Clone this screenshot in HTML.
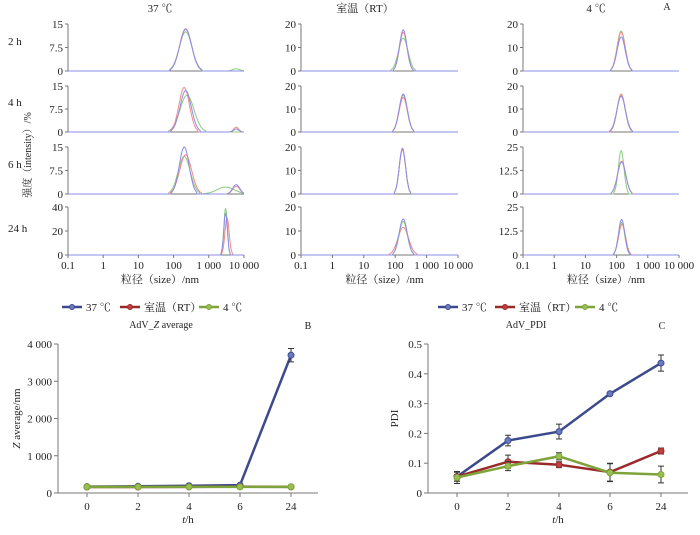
<!DOCTYPE html>
<html><head><meta charset="utf-8">
<style>
html,body{margin:0;padding:0;background:#fff;}
svg{display:block;font-family:"Liberation Serif","Noto Serif CJK SC",serif;}
</style></head>
<body>
<svg id="fig" width="700" height="535" viewBox="0 0 700 535"></svg>
<script>
// ---------- DLS distribution data (peak centre nm, height %, width in decades) ----------
const rowLabels = ["2 h","4 h","6 h","24 h"];
const colTitles = ["37 ℃","室温（RT）","4 ℃"];
const yMax37 = [15,15,15,40];
const yMaxRT = [20,20,20,20];
const yMax4 = [20,20,25,25];
const yTicks37 = [["0","7.5","15"],["0","7.5","15"],["0","7.5","15"],["0","20","40"]];
const yTicksRT = [["0","10","20"],["0","10","20"],["0","10","20"],["0","10","20"]];
const yTicks4 = [["0","10","20"],["0","10","20"],["0","12.5","25"],["0","12.5","25"]];
const xTickLabels = ["0.1","1","10","100","1 000","10 000"];
const peaks37 = [
 {red:[[220,13.5,.17]],blue:[[220,13.3,.17]],green:[[220,12.5,.18],[6000,0.7,.1]]},
 {red:[[200,14.5,.15],[6000,1.6,.07]],blue:[[220,13.5,.16],[6000,1,.07]],green:[[240,12,.2]]},
 {red:[[220,12.5,.17],[6000,2.5,.1]],blue:[[200,15,.14],[6000,3,.1]],green:[[200,12,.17],[3000,2.2,.25]]},
 {red:[[3300,31,.06]],blue:[[3000,35,.05]],green:[[3000,39,.05]]}];
const peaksRT = [
 {red:[[180,16.5,.12]],blue:[[180,17.5,.12]],green:[[180,14,.15]]},
 {red:[[180,15,.13]],blue:[[180,16.5,.13]],green:[[180,16,.13]]},
 {red:[[170,19,.1]],blue:[[170,19.5,.1]],green:[[170,19,.1]]},
 {red:[[180,11.5,.17]],blue:[[180,15,.13]],green:[[180,14,.13]]}];
const peaks4 = [
 {red:[[140,16.5,.13]],blue:[[140,14.5,.13]],green:[[140,17,.13]]},
 {red:[[140,16.5,.13]],blue:[[140,15.5,.14]],green:[[140,16,.13]]},
 {red:[[145,17.5,.13]],blue:[[145,17,.13]],green:[[140,23,.09]]},
 {red:[[150,16,.11]],blue:[[145,18.5,.1]],green:[[145,17,.1]]}];
// ---------- line charts ----------
const times = ["0","2","4","6","24"];
const seriesNames = ["37 ℃","室温（RT）","4 ℃"];
const zavg37 = [170,180,195,210,3700];
const zavgRT = [160,160,165,170,165];
const zavg4 = [165,165,165,165,165];
const zerr37 = [20,20,20,20,180];
const zerrRT = [10,10,10,10,10];
const zerr4 = [10,10,10,10,10];
const zTicks = [0,1000,2000,3000,4000];
const zTickLabels = ["0","1 000","2 000","3 000","4 000"];
const pdi37 = [0.055,0.176,0.206,0.333,0.436];
const pdiRT = [0.055,0.105,0.095,0.07,0.141];
const pdi4 = [0.052,0.09,0.123,0.068,0.062];
const perr37 = [0.015,0.018,0.025,0.005,0.027];
const perrRT = [0.015,0.022,0.01,0.03,0.01];
const perr4 = [0.02,0.015,0.012,0.03,0.028];
const pTicks = [0,0.1,0.2,0.3,0.4,0.5];
const pTickLabels = ["0","0.1","0.2","0.3","0.4","0.5"];

const NS="http://www.w3.org/2000/svg";
const svg=document.getElementById('fig');
function mk(tag,attrs,parent){const e=document.createElementNS(NS,tag);for(const k in attrs)e.setAttribute(k,attrs[k]);(parent||svg).appendChild(e);return e;}
function txt(x,y,s,size,anchor,parent,extra){const t=mk('text',Object.assign({x:x,y:y,'font-size':size,'text-anchor':anchor||'middle',fill:'#222'},extra||{}),parent);t.textContent=s;return t;}

const AX='#777';
const lineColors={red:'#f08a8a',green:'#8ccc7c',blue:'#8c8ce6'};
const cols=[
 {x0:68,x1:244,peaks:peaks37,ymax:yMax37,ticks:yTicks37,title:colTitles[0],tx:160},
 {x0:301,x1:458,peaks:peaksRT,ymax:yMaxRT,ticks:yTicksRT,title:colTitles[1],tx:365},
 {x0:523,x1:679,peaks:peaks4,ymax:yMax4,ticks:yTicks4,title:colTitles[2],tx:596}];
const rows=[{top:24,base:71},{top:86,base:132},{top:147,base:194},{top:207,base:255}];

let t=txt(0,0,'',12);
cols.forEach((c,ci)=>{
 t=txt(c.tx,12,c.title,11);
 
 
 const xs=v=>c.x0+(Math.log10(v)+1)/5*(c.x1-c.x0);
 rows.forEach((r,ri)=>{
  const g=mk('g',{});
  
  
  const ys=v=>r.base-v/c.ymax[ri]*(r.base-r.top);
  mk('line',{x1:c.x0,y1:r.top,x2:c.x0,y2:r.base,stroke:AX,'stroke-width':1},g);
  mk('line',{x1:c.x0,y1:r.base,x2:c.x1,y2:r.base,stroke:AX,'stroke-width':1},g);
  c.ticks[ri].forEach((lab,k)=>{
   const v=parseFloat(lab);const y=ys(v);
   mk('line',{x1:c.x0-3,y1:y,x2:c.x0,y2:y,stroke:AX},g);
   txt(c.x0-5,y+4,lab,11,'end',g);
  });
  const p=c.peaks[ri];
  ['green','red','blue'].forEach(col=>{
   let d='';
   for(let i=0;i<=300;i++){
    const lx=-1+5*i/300;let v=0;
    p[col].forEach(pk=>{const z=(lx-Math.log10(pk[0]))/pk[2];if(Math.abs(z)<2.6)v+=pk[1]*Math.exp(-z*z/2);});
    d+=(i?'L':'M')+xs(Math.pow(10,lx)).toFixed(1)+','+ys(v).toFixed(1);
   }
   const pa=mk('path',{d:d,fill:'none',stroke:lineColors[col],'stroke-width':1},g);
   
   
  });
  if(ri===3){
   xTickLabels.forEach((lab,k)=>{const x=xs(Math.pow(10,k-1));mk('line',{x1:x,y1:r.base,x2:x,y2:r.base+3,stroke:AX},g);txt(x,r.base+14,lab,11,'middle',g);});
  }
 });
 if(ci>0){t=txt((c.x0+c.x1)/2+5,283,'粒径（size）/nm',11);}
 else {t=txt(160,283,'粒径（size）/nm',11);}
 
 
});
rowLabels.forEach((l,i)=>{t=txt(8,[45,106,168,232][i],l,11,'start');
 });
t=txt(0,0,'强度（intensity）/%',10,'middle',svg,{transform:'translate(31,155) rotate(-90)'});

t=txt(667,10,'A',10);

// ---------- line charts ----------
const sColors=['#3c4a8c','#9a2a2a','#7ea33a'];
const sFill=['#6a7ac0','#c04040','#98c050'];
function lineChart(o){
 const g=mk('g',{});
 
 
 const ys=v=>o.y0-(v-o.vmin)/(o.vmax-o.vmin)*(o.y0-o.y1);
 const xs=i=>o.cx[0]+i*(o.cx[1]-o.cx[0]);
 // legend
 seriesNames.forEach((n,i)=>{
  const lx=o.legX[i];
  const lg=mk('g',{},g);
  
  
  mk('line',{x1:lx,y1:307,x2:lx+20,y2:307,stroke:sColors[i],'stroke-width':2.5},lg);
  mk('circle',{cx:lx+10,cy:307,r:2.5,fill:sFill[i],stroke:sColors[i]},lg);
  txt(lx+24,311,n,11,'start',lg);
 });
 txt(o.titleX,328,o.title[0],10,'middle',g).innerHTML=o.title[1];
 txt(o.labX,329,o.lab,10,'middle',g);
 mk('line',{x1:o.x0,y1:o.y1,x2:o.x0,y2:o.y0,stroke:AX},g);
 mk('line',{x1:o.x0,y1:o.y0,x2:o.xEnd,y2:o.y0,stroke:AX},g);
 o.ticks.forEach((v,k)=>{const y=ys(v);mk('line',{x1:o.x0-4,y1:y,x2:o.x0,y2:y,stroke:AX},g);txt(o.x0-6,y+4,o.tickLabels[k],11,'end',g);});
 times.forEach((l,i)=>{const x=xs(i);mk('line',{x1:x,y1:o.y0,x2:x,y2:o.y0+4,stroke:AX},g);txt(x,o.y0+17,l,11,'middle',g);});
 txt((o.x0+o.xEnd)/2,523,'',11,'middle',g).innerHTML='<tspan font-style="italic">t</tspan>/h';
 const yt=txt(0,0,'',11,'middle',g,{transform:'translate('+o.yTitleX+','+((o.y0+o.y1)/2)+') rotate(-90)'});
 yt.innerHTML=o.yTitle;
 
 
 o.series.forEach((s,si)=>{
  const sg=mk('g',{},g);
  
  
  let d='';
  s.forEach((v,i)=>{d+=(i?'L':'M')+xs(i)+','+ys(v);});
  mk('path',{d:d,fill:'none',stroke:sColors[si],'stroke-width':2.5},sg);
  s.forEach((v,i)=>{
   const e=o.errs[si][i];const x=xs(i);
   mk('path',{d:'M'+x+','+ys(v-e)+'V'+ys(v+e)+'M'+(x-3)+','+ys(v-e)+'h6M'+(x-3)+','+ys(v+e)+'h6',stroke:'#333','stroke-width':1,fill:'none'},sg);
   const pt=mk('circle',{cx:x,cy:ys(v),r:3,fill:sFill[si],stroke:sColors[si],'stroke-width':1},sg);
   
   
  });
 });
}
lineChart({name:'z-average-chart',x0:58,xEnd:318,y0:493,y1:344,vmin:0,vmax:4000,cx:[87,138],
 ticks:zTicks,tickLabels:zTickLabels,series:[zavg37,zavgRT,zavg4],errs:[zerr37,zerrRT,zerr4],
 legX:[62,120,199],title:['','AdV_<tspan font-style="italic">Z</tspan> average'],titleX:161,lab:'B',labX:308,
 yTitle:'<tspan font-style="italic">Z</tspan> average/nm',yTitleX:20});
lineChart({name:'pdi-chart',x0:428,xEnd:688,y0:493,y1:344,vmin:0,vmax:0.5,cx:[457,508],
 ticks:pTicks,tickLabels:pTickLabels,series:[pdi37,pdiRT,pdi4],errs:[perr37,perrRT,perr4],
 legX:[438,495,575],title:['','AdV_PDI'],titleX:526,lab:'C',labX:662,
 yTitle:'PDI',yTitleX:398});
</script>
</body></html>
